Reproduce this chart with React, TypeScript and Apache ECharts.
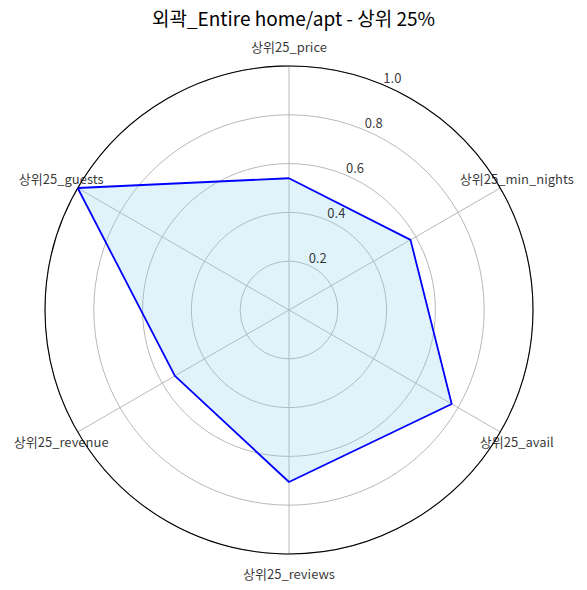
import React, { useEffect, useRef } from "react";
import * as echarts from "echarts";

const title = "외곽_Entire home/apt - 상위 25%";
const categories = [
  "상위25_price",
  "상위25_min_nights",
  "상위25_avail",
  "상위25_reviews",
  "상위25_revenue",
  "상위25_guests",
];
const values = [0.54, 0.575, 0.77, 0.705, 0.54, 1.0];
const radialTicks = [0.2, 0.4, 0.6, 0.8, 1.0];
const radialTickLabels = ["0.2", "0.4", "0.6", "0.8", "1.0"];

const FONT = '"Noto Sans CJK KR", "Noto Sans", sans-serif';

export default function App() {
  const ref = useRef<HTMLDivElement>(null);
  useEffect(() => {
    if (!ref.current) return;
    const chart = echarts.init(ref.current, undefined, { renderer: "svg" });
    const n = categories.length;
    const step = 360 / n;
    const lineData = values.map((v, i) => [v, i * step]);
    lineData.push([values[0], 360]);
    const labelRadius = 1.078;
    const catLabelData = categories.map((c, i) => ({ value: [labelRadius, i * step], name: c }));
    const tickLabelAngle = 22.5;
    const tickData = radialTicks.map((t, i) => ({ value: [t, tickLabelAngle], name: radialTickLabels[i] }));

    chart.setOption({
      animation: false,
      backgroundColor: "#ffffff",
      textStyle: { fontFamily: FONT },
      title: {
        text: title,
        left: "center",
        top: 3,
        textStyle: { fontFamily: FONT, fontSize: 19, fontWeight: "normal", color: "#000" },
      },
      polar: { center: [289, 310], radius: 244 },
      angleAxis: {
        type: "value",
        min: 0,
        max: 360,
        interval: step,
        startAngle: 90,
        clockwise: true,
        axisLine: { show: true, lineStyle: { color: "#000", width: 1.1 } },
        axisTick: { show: false },
        axisLabel: { show: false },
        splitLine: { show: true, lineStyle: { color: "#b0b0b0", width: 0.9 } },
      },
      radiusAxis: {
        type: "value",
        min: 0,
        max: 1,
        interval: 0.2,
        axisLine: { show: false },
        axisTick: { show: false },
        axisLabel: { show: false },
        splitLine: { show: true, lineStyle: { color: "#b0b0b0", width: 0.9 } },
      },
      series: [
        {
          type: "line",
          coordinateSystem: "polar",
          data: lineData,
          showSymbol: false,
          symbol: "none",
          lineStyle: { color: "#0000ff", width: 1.8 },
          areaStyle: { color: "rgba(135,206,235,0.36)" },
          z: 3,
        },
        {
          type: "scatter",
          coordinateSystem: "polar",
          clip: false,
          symbolSize: 0,
          data: catLabelData,
          label: {
            show: true,
            position: "inside",
            formatter: (p: any) => p.name,
            color: "#000",
            fontSize: 13,
            fontFamily: FONT,
          },
          z: 5,
        },
        {
          type: "scatter",
          coordinateSystem: "polar",
          clip: false,
          symbolSize: 0,
          data: tickData,
          label: {
            show: true,
            position: "inside",
            offset: [10, -7],
            formatter: (p: any) => p.name,
            color: "#000",
            fontSize: 13,
            fontFamily: FONT,
          },
          z: 5,
        },
      ],
    });
    return () => chart.dispose();
  }, []);
  return (
    <div
      ref={ref}
      style={{ position: "fixed", left: 0, top: 0, width: 587, height: 590 }}
    />
  );
}
